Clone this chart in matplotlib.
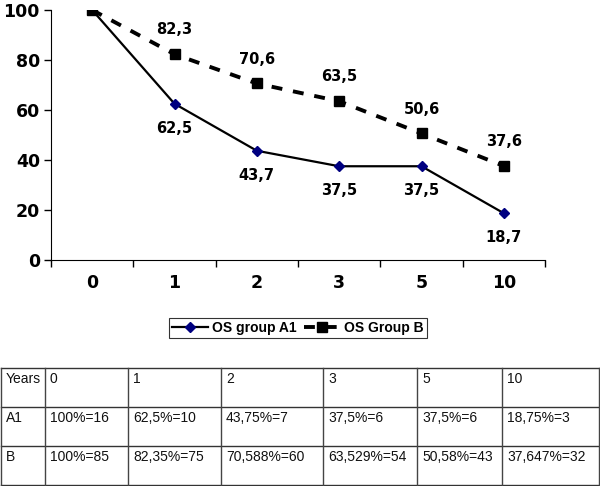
import matplotlib.pyplot as plt
import numpy as np

years = ["0", "1", "2", "3", "5", "10"]
os_a1 = [100, 62.5, 43.7, 37.5, 37.5, 18.7]
os_b = [100, 82.3, 70.6, 63.5, 50.6, 37.6]
a1_labels = ["", "62,5", "43,7", "37,5", "37,5", "18,7"]
b_labels = ["", "82,3", "70,6", "63,5", "50,6", "37,6"]

table_rows = [
    ["Years", "0", "1", "2", "3", "5", "10"],
    ["A1", "100%=16", "62,5%=10", "43,75%=7", "37,5%=6", "37,5%=6", "18,75%=3"],
    ["B", "100%=85", "82,35%=75", "70,588%=60", "63,529%=54", "50,58%=43", "37,647%=32"],
]

plt.rcParams['font.family'] = ['Liberation Sans', 'DejaVu Sans']
wide = ['DejaVu Sans']

fig = plt.figure(figsize=(6, 4.86), dpi=100)
W, H = 600, 486

# chart area
ax = fig.add_axes([51 / W, 1 - 260 / H, 494 / W, 250 / H])
x = np.arange(len(years))
ax.plot(x, os_a1, color="black", lw=1.6, marker="D", ms=5.5,
        mfc="#000080", mec="#000080", label="OS group A1", zorder=3)
ax.plot(x, os_b, color="black", lw=2.8, ls=(0, (2.8, 2.8)), marker="s", ms=7,
        mfc="black", mec="black", label="OS Group B", zorder=3)

for xi, v, s in zip(x, os_a1, a1_labels):
    if s:
        ax.annotate(s, (xi, v), xytext=(0, -17.5), textcoords="offset points",
                    ha="center", va="center", fontsize=10.5, fontweight="bold",
                    family=wide)
for xi, v, s in zip(x, os_b, b_labels):
    if s:
        ax.annotate(s, (xi, v), xytext=(0, 17.5), textcoords="offset points",
                    ha="center", va="center", fontsize=10.5, fontweight="bold",
                    family=wide)

ax.set_xlim(-0.5, len(years) - 0.5)
ax.set_ylim(0, 100)
ax.set_yticks(range(0, 101, 20))
ax.set_xticks(np.arange(-0.5, len(years), 1.0))
ax.set_xticklabels([])
ax.set_xticks(x, minor=True)
ax.set_xticklabels(years, minor=True)
ax.tick_params(axis="x", which="minor", length=0, pad=10)
ax.tick_params(axis="x", which="major", length=5, width=1, direction="out")
ax.tick_params(axis="y", length=5, width=1, pad=3)
for lab in ax.get_xticklabels(minor=True) + ax.get_yticklabels():
    lab.set_fontweight("bold")
    lab.set_family(wide)
    lab.set_fontsize(12.5)
ax.spines["top"].set_visible(False)
ax.spines["right"].set_visible(False)

leg = fig.legend(loc="center", bbox_to_anchor=(298 / W, 1 - 328 / H), ncol=2,
                 frameon=True, fancybox=False, edgecolor="black",
                 prop={"weight": "bold", "size": 10}, handlelength=2.6,
                 handletextpad=0.3, columnspacing=0.5, borderpad=0.25)
leg.get_frame().set_linewidth(0.8)

# table drawn in pixel coordinates
tab = fig.add_axes([0, 0, 1, 1])
tab.set_xlim(0, W)
tab.set_ylim(H, 0)
tab.axis("off")
col_edges = [1, 45, 128, 221, 323, 417, 502, 599]
row_edges = [368, 407, 446, 485]
for y in row_edges:
    tab.plot([col_edges[0], col_edges[-1]], [y, y], color="#333333", lw=1)
for cx in col_edges:
    tab.plot([cx, cx], [row_edges[0], row_edges[-1]], color="#444444", lw=1)
for r, row in enumerate(table_rows):
    for c, txt in enumerate(row):
        tab.text(col_edges[c] + 5, row_edges[r] + 11, txt, ha="left",
                 va="center", fontsize=10, color="#111111")

fig.savefig("out.png", dpi=100)
